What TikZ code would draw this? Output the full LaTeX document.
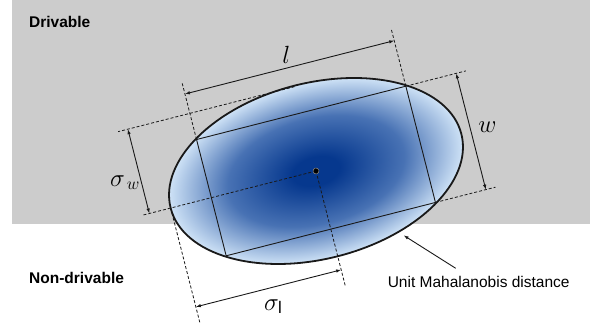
\documentclass[tikz,border=0pt]{standalone}
\usepackage{fontspec}
\setmainfont{Liberation Sans}
\usetikzlibrary{arrows.meta}
\definecolor{bggray}{RGB}{204,204,204}
\definecolor{ecore}{RGB}{6,56,142}
\definecolor{emid}{RGB}{72,114,180}
\definecolor{eedge}{RGB}{206,226,246}
\definecolor{inkc}{RGB}{25,25,25}
\pgfdeclareradialshading{mahal}{\pgfpoint{0bp}{0bp}}{color(0bp)=(ecore); color(4bp)=(ecore); color(15bp)=(emid); color(25bp)=(eedge); color(50bp)=(eedge)}
\tikzset{
  dimline/.style={line width=0.9pt, draw=inkc, {Latex[length=5pt,width=3.5pt]}-{Latex[length=5pt,width=3.5pt]}},
  oneway/.style={line width=0.9pt, draw=inkc, -{Latex[length=5pt,width=3.5pt]}},
  helper/.style={line width=0.8pt, draw=inkc, dash pattern=on 3pt off 2pt},
  boxline/.style={line width=0.9pt, draw=inkc},
  mathlbl/.style={inner sep=0pt, font=\fontsize{24}{24}\selectfont},
  plainlbl/.style={inner sep=0pt, font=\fontsize{15.5}{18}\selectfont},
  boldlbl/.style={inner sep=0pt, font=\fontsize{15.5}{18}\selectfont\bfseries}
}
\begin{document}
\begin{tikzpicture}[x=1pt,y=1pt]
\useasboundingbox (0,0) rectangle (600,331);
% drivable region
\fill[bggray] (12,107) rectangle (590,331);
\node[boldlbl, anchor=west] (drv) at (29,309.5) {Drivable};
\node[boldlbl, anchor=west] (ndrv) at (29,52.7) {Non-drivable};
% shaded ellipse
\shade[shading=mahal, transform canvas={shift={(316,160)}, rotate=14.3}] (0,0) ellipse [x radius=150, y radius=88];
\begin{scope}[shift={(316,160)}, rotate=14.3]
  \coordinate (c) at (0,0);
  \coordinate (tl) at (-108,60);
  \coordinate (tr) at (108,60);
  \coordinate (br) at (108,-60);
  \coordinate (bl) at (-108,-60);
  \coordinate (maj) at (-150,0);
  \coordinate (mintop) at (0,87);
  % helper (dashed) lines
  \coordinate (tlx) at (-108,120);
  \coordinate (trx) at (108,120);
  \coordinate (trw) at (170,60);
  \coordinate (brw) at (170,-60);
  \coordinate (swt) at (-182,87);
  \coordinate (swb) at (-180,0);
  \coordinate (slx) at (-150,-118);
  \coordinate (smx) at (0,-118);
  \draw[helper] (tl) -- (tlx);
  \draw[helper] (tr) -- (trx);
  \draw[helper] (tr) -- (trw);
  \draw[helper] (br) -- (brw);
  \draw[helper] (mintop) -- (swt);
  \draw[helper] (c) -- (swb);
  \draw[helper] (maj) -- (slx);
  \draw[helper] (c) -- (smx);
  % inscribed rectangle
  \draw[boxline] (tl) -- (tr) -- (br) -- (bl) -- cycle;
  % ellipse outline
  \draw[line width=1.8pt, draw=inkc] (c) ellipse [x radius=150, y radius=88];
  \fill[black, draw=gray, line width=0.6pt] (c) circle (3);
  % dimension arrows
  \coordinate (la) at (-108,107);
  \coordinate (lb) at (108,107);
  \draw[dimline] (la) -- (lb);
  \coordinate (wa) at (160,60);
  \coordinate (wb) at (160,-60);
  \draw[dimline] (wa) -- (wb);
  \coordinate (sa) at (-172,87);
  \coordinate (sb) at (-172,0);
  \draw[dimline] (sa) -- (sb);
  \coordinate (sla) at (-150,-102);
  \coordinate (slb) at (0,-102);
  \draw[dimline] (sla) -- (slb);
  \node[mathlbl] (ll) at (0,120) {$l$};
  \node[mathlbl] (wl) at (177,0) {$w$};
  \node[mathlbl] (swl) at (-188,36) {$\sigma_{\,w}$};
  \node[mathlbl] (sll) at (-75,-121) {$\sigma_{\mathrm{l}}$};
  \coordinate (mtip) at (69,-84);
\end{scope}
\node[plainlbl] (mtxt) at (478.7,49) {Unit Mahalanobis distance};
\coordinate (mtail) at (455.7,62.7);
\draw[oneway] (mtail) -- (mtip);
\end{tikzpicture}
\end{document}
